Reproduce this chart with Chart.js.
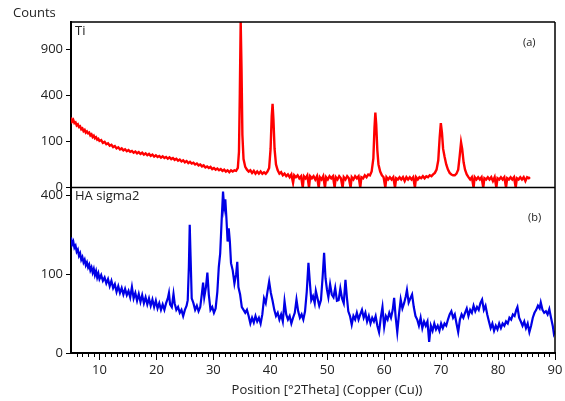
<!DOCTYPE html>
<html lang="en">
  <head>
    <meta charset="UTF-8" />
    <title>XRD - Ti / HA sigma2</title>
    <style>
      body { margin: 0; background: #fff; }
      canvas { display: block; }
    </style>
  </head>
  <body>
    <canvas id="xrd" width="565" height="401"></canvas>

    <script src="https://cdn.jsdelivr.net/npm/chart.js@4/dist/chart.umd.min.js"></script>

    <script>
      // (a) Ti pattern
      var tiAngle = [
        5.0, 5.2, 5.4, 5.6, 5.8, 6.0, 6.2, 6.4, 6.6, 6.8, 7.0, 7.2, 7.4, 7.6, 7.8, 8.0, 8.2, 8.4, 8.6, 8.8,
        9.0, 9.2, 9.4, 9.6, 9.8, 10.0, 10.3, 10.6, 10.9, 11.2, 11.5, 11.8, 12.1, 12.4, 12.7, 13.0, 13.3, 13.6, 13.9, 14.2,
        14.5, 14.8, 15.1, 15.4, 15.7, 16.0, 16.3, 16.6, 16.9, 17.2, 17.5, 17.8, 18.1, 18.4, 18.7, 19.0, 19.3, 19.6, 19.9, 20.2,
        20.5, 20.8, 21.1, 21.4, 21.7, 22.0, 22.3, 22.6, 22.9, 23.2, 23.5, 23.8, 24.1, 24.4, 24.7, 25.0, 25.3, 25.6, 25.9, 26.2,
        26.5, 26.8, 27.1, 27.4, 27.7, 28.0, 28.3, 28.6, 28.9, 29.2, 29.5, 29.8, 30.1, 30.4, 30.7, 31.0, 31.3, 31.6, 31.9, 32.2,
        32.5, 32.8, 33.1, 33.4, 33.7, 34.0, 34.3, 34.5, 34.65, 34.8, 34.95, 35.1, 35.3, 35.6, 35.9, 36.2, 36.5, 36.8, 37.1, 37.4,
        37.7, 38.0, 38.3, 38.6, 38.9, 39.2, 39.5, 39.8, 40.05, 40.25, 40.4, 40.55, 40.75, 41.0, 41.3, 41.6, 41.9, 42.2, 42.5, 42.8,
        43.1, 43.4, 43.7, 44.0, 44.2, 44.5, 44.8, 45.1, 45.4, 45.7, 45.9, 46.2, 46.5, 46.8, 47.0, 47.3, 47.6, 47.9, 48.2, 48.5,
        48.7, 49.0, 49.3, 49.6, 49.8, 50.1, 50.4, 50.7, 51.0, 51.3, 51.5, 51.8, 52.1, 52.4, 52.7, 52.9, 53.2, 53.5, 53.8, 54.1,
        54.3, 54.6, 54.9, 55.2, 55.5, 55.8, 56.0, 56.3, 56.6, 56.9, 57.2, 57.5, 57.8, 58.1, 58.3, 58.45, 58.6, 58.8, 59.0, 59.3,
        59.6, 59.9, 60.2, 60.4, 60.7, 61.0, 61.3, 61.6, 61.9, 62.1, 62.4, 62.7, 63.0, 63.3, 63.6, 63.9, 64.2, 64.5, 64.8, 65.1,
        65.4, 65.6, 65.9, 66.2, 66.5, 66.8, 67.1, 67.4, 67.7, 68.0, 68.3, 68.6, 68.9, 69.2, 69.5, 69.75, 69.95, 70.15, 70.35, 70.6,
        70.9, 71.2, 71.5, 71.8, 72.1, 72.4, 72.7, 73.0, 73.25, 73.5, 73.7, 73.95, 74.2, 74.5, 74.8, 75.1, 75.4, 75.7, 75.9, 76.2,
        76.5, 76.8, 77.1, 77.4, 77.6, 77.9, 78.2, 78.5, 78.8, 79.1, 79.4, 79.7, 79.9, 80.2, 80.5, 80.8, 81.1, 81.4, 81.6, 81.9,
        82.2, 82.5, 82.8, 83.1, 83.3, 83.6, 83.9, 84.2, 84.5, 84.8, 85.1, 85.4, 85.6
      ];
      var tiCounts = [
        230, 205, 215, 195, 200, 182, 188, 172, 176, 160, 165, 150, 156, 142, 148, 138, 142, 128, 133, 120,
        126, 114, 119, 108, 112, 102, 106, 94, 98, 88, 92, 82, 86, 77, 81, 72, 76, 68, 72, 65,
        69, 62, 66, 60, 63, 57, 61, 55, 59, 53, 57, 51, 55, 49, 53, 47, 51, 45, 49, 44,
        47, 42, 46, 41, 44, 39, 43, 38, 41, 36, 39, 34, 37, 32, 35, 30, 33, 28, 31, 27,
        29, 25, 27, 23, 25, 21, 23, 19, 21, 18, 20, 16, 18, 15, 17, 14, 16, 13, 15, 12,
        14, 11, 14, 12, 14, 13, 18, 60, 420, 1300, 650, 130, 38, 20, 15, 12, 14, 10, 13, 9,
        12, 9, 12, 9, 11, 9, 12, 18, 70, 240, 330, 220, 70, 25, 14, 9, 11, 7, 9, 6,
        8, 5, 8, 1, 7, 5, 7, 4, 6, 0, 6, 4, 7, 0, 6, 4, 6, 3, 6, 0,
        5, 3, 6, 0, 5, 3, 6, 4, 6, 0, 5, 3, 6, 4, 0, 5, 3, 6, 4, 0,
        5, 3, 6, 4, 6, 0, 5, 4, 7, 5, 8, 7, 12, 40, 170, 265, 190, 65, 25, 12,
        7, 5, 0, 5, 3, 5, 3, 5, 0, 4, 3, 5, 3, 5, 2, 5, 3, 5, 3, 5,
        0, 5, 3, 5, 4, 6, 4, 6, 5, 7, 6, 8, 10, 15, 35, 120, 195, 140, 70, 45,
        25, 15, 10, 8, 7, 7, 9, 15, 45, 96, 70, 30, 15, 8, 5, 3, 5, 0, 5, 3,
        5, 3, 5, 0, 4, 3, 5, 3, 5, 2, 5, 0, 4, 3, 5, 3, 5, 0, 4, 3,
        5, 3, 5, 0, 4, 3, 5, 3, 5, 2, 5, 4, 5
      ];

      // (b) HA sigma2 pattern
      var haAngle = [
        5.0, 5.2, 5.4, 5.6, 5.8, 6.0, 6.2, 6.4, 6.6, 6.8, 7.0, 7.2, 7.4, 7.6, 7.8, 8.0, 8.2, 8.4, 8.6, 8.8,
        9.0, 9.2, 9.4, 9.6, 9.8, 10.0, 10.3, 10.6, 10.9, 11.2, 11.5, 11.8, 12.1, 12.4, 12.7, 13.0, 13.3, 13.6, 13.9, 14.2,
        14.5, 14.8, 15.1, 15.4, 15.7, 16.0, 16.3, 16.6, 16.9, 17.2, 17.5, 17.8, 18.1, 18.4, 18.7, 19.0, 19.3, 19.6, 19.9, 20.2,
        20.5, 20.8, 21.1, 21.4, 21.7, 22.0, 22.2, 22.4, 22.7, 23.0, 23.2, 23.5, 23.8, 24.1, 24.4, 24.7, 25.0, 25.3, 25.5, 25.7,
        25.85, 26.0, 26.2, 26.5, 26.8, 27.1, 27.4, 27.7, 28.0, 28.2, 28.4, 28.7, 28.95, 29.2, 29.5, 29.8, 30.1, 30.4, 30.7, 30.95,
        31.2, 31.45, 31.7, 31.9, 32.1, 32.3, 32.5, 32.7, 32.9, 33.1, 33.4, 33.7, 34.0, 34.2, 34.4, 34.7, 35.0, 35.3, 35.6, 35.9,
        36.2, 36.5, 36.8, 37.1, 37.4, 37.7, 38.0, 38.3, 38.6, 38.9, 39.2, 39.5, 39.8, 40.1, 40.4, 40.7, 41.0, 41.3, 41.6, 41.9,
        42.2, 42.5, 42.8, 43.1, 43.4, 43.7, 44.0, 44.3, 44.6, 44.9, 45.2, 45.5, 45.8, 46.1, 46.4, 46.7, 46.95, 47.2, 47.5, 47.8,
        48.0, 48.3, 48.6, 48.9, 49.2, 49.45, 49.7, 49.95, 50.2, 50.5, 50.8, 51.1, 51.4, 51.7, 52.0, 52.3, 52.6, 52.9, 53.2, 53.45,
        53.7, 54.0, 54.3, 54.6, 54.9, 55.2, 55.5, 55.8, 56.1, 56.4, 56.7, 57.0, 57.3, 57.6, 57.9, 58.2, 58.5, 58.8, 59.1, 59.4,
        59.7, 60.0, 60.3, 60.6, 60.9, 61.2, 61.5, 61.75, 62.0, 62.3, 62.6, 62.9, 63.2, 63.5, 63.8, 64.0, 64.3, 64.6, 64.9, 65.2,
        65.5, 65.8, 66.1, 66.4, 66.7, 67.0, 67.3, 67.6, 67.9, 68.2, 68.5, 68.8, 69.1, 69.4, 69.7, 70.0, 70.3, 70.6, 70.9, 71.2,
        71.5, 71.8, 72.1, 72.4, 72.7, 73.0, 73.3, 73.6, 73.9, 74.2, 74.5, 74.8, 75.1, 75.4, 75.7, 76.0, 76.3, 76.6, 76.9, 77.2,
        77.5, 77.8, 78.1, 78.4, 78.7, 79.0, 79.3, 79.6, 79.9, 80.2, 80.5, 80.8, 81.1, 81.4, 81.7, 82.0, 82.3, 82.6, 82.9, 83.2,
        83.4, 83.7, 84.0, 84.3, 84.6, 84.9, 85.2, 85.5, 85.8, 86.1, 86.4, 86.7, 87.0, 87.3, 87.5, 87.8, 88.1, 88.4, 88.7, 89.0,
        89.3, 89.6, 89.8, 90.0
      ];
      var haCounts = [
        215, 190, 200, 178, 185, 165, 172, 152, 160, 140, 148, 132, 140, 124, 132, 118, 126, 110, 118, 104,
        114, 98, 108, 92, 102, 88, 98, 84, 92, 78, 88, 72, 84, 68, 76, 60, 72, 58, 68, 55,
        66, 54, 62, 50, 70, 48, 58, 44, 56, 42, 54, 40, 50, 38, 48, 36, 46, 34, 44, 32,
        40, 30, 38, 30, 40, 48, 58, 38, 34, 56, 40, 30, 34, 26, 30, 22, 30, 36, 45, 120,
        265, 150, 48, 40, 30, 36, 28, 34, 58, 80, 50, 70, 104, 55, 30, 34, 26, 32, 60, 118,
        160, 280, 420, 340, 380, 290, 200, 250, 200, 130, 110, 78, 100, 134, 70, 55, 34, 30, 26, 30,
        22, 14, 20, 15, 22, 16, 20, 14, 24, 48, 40, 60, 82, 58, 44, 30, 22, 26, 18, 24,
        16, 43, 24, 18, 22, 14, 20, 26, 46, 28, 20, 24, 18, 28, 60, 131, 80, 45, 52, 40,
        62, 48, 36, 45, 95, 162, 90, 65, 50, 76, 55, 50, 68, 44, 45, 67, 48, 40, 86, 50,
        28, 22, 13, 22, 18, 26, 18, 24, 30, 20, 26, 16, 22, 14, 20, 16, 22, 12, 7, 20,
        34, 11, 22, 18, 26, 20, 30, 49, 22, 7, 24, 46, 32, 40, 52, 64, 41, 48, 55, 34,
        22, 18, 12, 20, 10, 16, 12, 16, 2, 12, 8, 14, 9, 12, 8, 14, 10, 14, 12, 18,
        24, 28, 20, 24, 14, 7, 18, 24, 20, 26, 32, 22, 30, 26, 36, 28, 34, 30, 40, 46,
        30, 36, 24, 16, 10, 14, 8, 12, 9, 14, 10, 14, 12, 16, 14, 20, 18, 24, 22, 30,
        34, 20, 16, 12, 16, 10, 14, 7, 12, 20, 26, 30, 36, 32, 41, 30, 26, 28, 24, 31,
        20, 12, 6, 8
      ];

      // tick labels on the square-root count axes
      var tiTicks = [0, 100, 400, 900];
      var haTicks = [0, 100, 400];

      // square-root intensity axis, like the diffractometer software draws it
      class SqrtScale extends Chart.LinearScale {
        static id = 'sqrt';
        static defaults = Chart.LinearScale.defaults;
        getPixelForValue(value) {
          if (value === null || value === undefined) return NaN;
          var lo = Math.sqrt(Math.max(this.min, 0)), hi = Math.sqrt(this.max);
          return this.getPixelForDecimal((Math.sqrt(Math.max(value, 0)) - lo) / (hi - lo));
        }
        getValueForPixel(pixel) {
          var lo = Math.sqrt(Math.max(this.min, 0)), hi = Math.sqrt(this.max);
          var s = lo + this.getDecimalForPixel(pixel) * (hi - lo);
          return s * s;
        }
      }
      Chart.register(SqrtScale);

      Chart.defaults.font.family = "'Open Sans', sans-serif";
      Chart.defaults.font.size = 13;
      Chart.defaults.color = '#222';

      function toPoints(xs, ys) {
        return xs.map(function (x, i) { return { x: x, y: ys[i] }; });
      }

      function countAxis(max, values) {
        return {
          type: 'sqrt',
          position: 'left',
          stack: 'xrd',
          stackWeight: 1,
          min: 0,
          max: max,
          afterBuildTicks: function (s) { s.ticks = values.map(function (v) { return { value: v }; }); },
          afterFit: function (s) { s.width = 71; },
          border: { display: true, color: '#000', width: 2 },
          grid: { drawOnChartArea: false, color: '#000', tickLength: 5 },
          ticks: { padding: 3, color: '#222' }
        };
      }

      // frame, divider, minor x ticks, axis title and panel labels
      var decor = {
        id: 'decor',
        afterDraw: function (chart) {
          var c = chart.ctx, a = chart.chartArea;
          var xs = chart.scales.x, top = chart.scales.yTi;
          c.save();
          c.strokeStyle = '#000';
          c.lineWidth = 1.5;
          c.beginPath();
          c.moveTo(a.left, a.top); c.lineTo(a.right, a.top);
          c.moveTo(a.right, a.top); c.lineTo(a.right, a.bottom);
          c.moveTo(a.left, top.bottom); c.lineTo(a.right, top.bottom);
          c.stroke();

          c.lineWidth = 1;
          c.beginPath();
          for (var v = 6; v < 90; v++) {
            if (v % 10 === 0) continue;
            var px = Math.round(xs.getPixelForValue(v)) + 0.5;
            c.moveTo(px, a.bottom); c.lineTo(px, a.bottom + 4);
          }
          c.stroke();

          c.fillStyle = '#222';
          c.textBaseline = 'middle';
          c.font = "13px 'Open Sans'";
          c.fillText('Counts', 13, 13);
          c.fillText('Ti', a.left + 4, a.top + 9);
          c.fillText('HA sigma2', a.left + 4, top.bottom + 9);
          c.textAlign = 'center';
          c.fillText('Position [°2Theta] (Copper (Cu))', (a.left + a.right) / 2 + 14, 390);
          c.textAlign = 'left';
          c.font = "11px 'Open Sans'";
          c.fillText('(a)', a.right - 32, a.top + 21);
          c.fillText('(b)', a.right - 27, top.bottom + 30);
          c.restore();
        }
      };

      new Chart(document.getElementById('xrd'), {
        type: 'line',
        data: {
          datasets: [
            {
              label: 'Ti',
              data: toPoints(tiAngle, tiCounts),
              yAxisID: 'yTi',
              borderColor: '#ff0000',
              borderWidth: 2.4
            },
            {
              label: 'HA sigma2',
              data: toPoints(haAngle, haCounts),
              yAxisID: 'yHA',
              borderColor: '#0000e6',
              borderWidth: 2.2
            }
          ]
        },
        options: {
          responsive: false,
          animation: false,
          layout: { padding: { top: 22, right: 10, left: 0, bottom: 0 } },
          elements: { point: { radius: 0 }, line: { tension: 0 } },
          plugins: { legend: { display: false }, tooltip: { enabled: false } },
          scales: {
            x: {
              type: 'linear',
              position: 'bottom',
              min: 5,
              max: 90,
              afterFit: function (s) { s.height = 48; },
              border: { display: true, color: '#000', width: 2 },
              grid: { drawOnChartArea: false, color: '#000', tickLength: 7 },
              ticks: { stepSize: 10, includeBounds: false, maxRotation: 0, padding: 2, color: '#222' }
            },
            // later scale sits on top of the stack
            yHA: countAxis(441, haTicks),
            yTi: countAxis(1290, tiTicks)
          }
        },
        plugins: [decor]
      });
    </script>
  </body>
</html>
